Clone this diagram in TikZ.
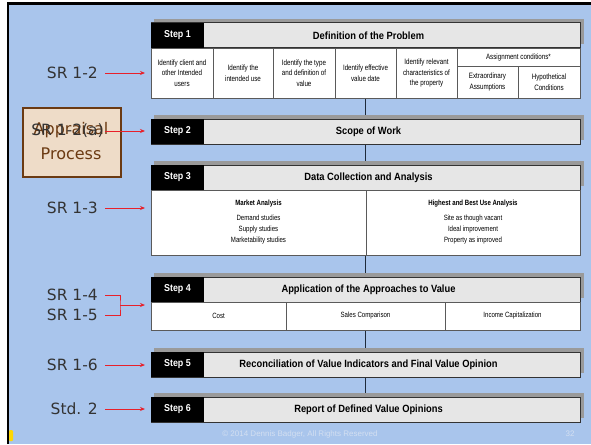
\documentclass[tikz,border=0pt]{standalone}
\usepackage{fontspec}
\setmainfont{Liberation Sans}
\newfontfamily\narrowfont[FakeStretch=0.8]{Liberation Sans}
\newfontfamily\headfont[FakeStretch=0.89]{Liberation Sans}
\newfontfamily\labelfont{DejaVu Sans}
\usetikzlibrary{arrows.meta,calc}

\definecolor{slideblue}{HTML}{A9C5EC}
\definecolor{shadowgray}{HTML}{9A9A9A}
\definecolor{headgray}{HTML}{E6E6E6}
\definecolor{cellline}{HTML}{5A5A5A}
\definecolor{labelgray}{HTML}{333333}
\definecolor{arrowred}{HTML}{E8202A}
\definecolor{boxfill}{HTML}{EEDCC8}
\definecolor{boxbrown}{HTML}{6B3A12}
\definecolor{footerblue}{HTML}{D3DFF1}
\definecolor{linkdark}{HTML}{1E2A3A}

\tikzset{
  x=1pt, y=-1pt,
  headbox/.style={draw=black!80, fill=headgray, line width=1pt, rectangle,
    minimum width=429pt, minimum height=25pt, inner sep=0pt, outer sep=0pt},
  stepcell/.style={fill=black, text=white, rectangle, minimum width=53pt,
    minimum height=25pt, inner sep=0pt, outer sep=0pt,
    font=\headfont\bfseries\fontsize{10}{12}\selectfont},
  headtitle/.style={font=\headfont\bfseries\fontsize{10.5}{12}\selectfont, inner sep=0pt},
  cell/.style={draw=cellline, fill=white, line width=0.8pt, rectangle,
    inner sep=0pt, outer sep=0pt, align=center,
    font=\narrowfont\fontsize{7.8}{10.5}\selectfont},
  bodycell/.style={cell, font=\narrowfont\fontsize{7.6}{11}\selectfont},
  srlabel/.style={font=\labelfont\fontsize{15.5}{18}\selectfont, text=labelgray,
    inner sep=0pt, anchor=east},
  redarrow/.style={draw=arrowred, line width=1pt, -{Stealth[length=5pt,width=4pt]}},
  redline/.style={draw=arrowred, line width=1pt},
  link/.style={draw=linkdark, line width=1.2pt},
}

% header bar of one step: name, top edge, number, title
\newcommand\stephead[4]{%
  \fill[shadowgray] (154,{#2-4}) rectangle (583.5,{#2+21});
  \node[headbox, anchor=north west] (#1) at (151,#2) {};
  \node[stepcell, anchor=north west] (#1s) at (151,#2) {Step #3};
  \node[headtitle] (#1t) at ($(#1.center)+(3,0)$) {#4};
}

\begin{document}
\begin{tikzpicture}
\useasboundingbox (0,0) rectangle (591,444);
\fill[white] (0,0) rectangle (591,444);
\fill[slideblue] (8,3) rectangle (591,444);
\draw[line width=2.4pt] (8,444) -- (8,3.5) -- (591,3.5);

% connectors between the steps (drawn first, boxes sit on top)
\coordinate (l1a) at (365.5,98);
\coordinate (l1b) at (365.5,119);
\coordinate (l2a) at (365.5,144);
\coordinate (l2b) at (365.5,165);
\coordinate (l3a) at (365.5,255);
\coordinate (l3b) at (365.5,277);
\coordinate (l4a) at (365.5,330);
\coordinate (l4b) at (365.5,352);
\coordinate (l5a) at (365.5,377);
\coordinate (l5b) at (365.5,397);
\draw[link] (l1a) -- (l1b);
\draw[link] (l2a) -- (l2b);
\draw[link] (l3a) -- (l3b);
\draw[link] (l4a) -- (l4b);
\draw[link] (l5a) -- (l5b);

% Step 1
\stephead{h1}{23}{1}{Definition of the Problem}
\node[cell, anchor=north west, minimum width=62pt, minimum height=50pt] (c1) at (151,48)
  {Identify client and\\other Intended\\users};
\node[cell, anchor=north west, minimum width=60pt, minimum height=50pt] (c2) at (213,48)
  {Identify the\\intended use};
\node[cell, anchor=north west, minimum width=62pt, minimum height=50pt] (c3) at (273,48)
  {Identify the type\\and definition of\\value};
\node[cell, anchor=north west, minimum width=61pt, minimum height=50pt] (c4) at (335,48)
  {Identify effective\\value date};
\node[cell, anchor=north west, minimum width=61pt, minimum height=50pt] (c5) at (396,48)
  {Identify relevant\\characteristics of\\the property};
\node[cell, anchor=north west, minimum width=123pt, minimum height=18pt] (c6) at (457,48)
  {Assignment conditions*};
\node[cell, anchor=north west, minimum width=61pt, minimum height=32pt] (c6a) at (457,66)
  {Extraordinary\\Assumptions};
\node[cell, anchor=north west, minimum width=62pt, minimum height=32pt] (c6b) at (518,66)
  {Hypothetical\\Conditions};

% Step 2
\stephead{h2}{119}{2}{Scope of Work}

% Step 3
\stephead{h3}{165}{3}{Data Collection and Analysis}
\node[bodycell, anchor=north west, minimum width=215pt, minimum height=65pt] (b3l) at (151,190)
  {{\bfseries Market Analysis}\\[4pt]Demand studies\\Supply studies\\Marketability studies};
\node[bodycell, anchor=north west, minimum width=214pt, minimum height=65pt] (b3r) at (366,190)
  {{\bfseries Highest and Best Use Analysis}\\[4pt]Site as though vacant\\Ideal improvement\\Property as improved};

% Step 4
\stephead{h4}{277}{4}{Application of the Approaches to Value}
\node[bodycell, anchor=north west, minimum width=135pt, minimum height=28pt] (b4a) at (151,302) {Cost};
\node[bodycell, anchor=north west, minimum width=159pt, minimum height=28pt] (b4b) at (286,302) {Sales Comparison};
\node[bodycell, anchor=north west, minimum width=135pt, minimum height=28pt] (b4c) at (445,302) {Income Capitalization};

% Step 5 and Step 6
\stephead{h5}{352}{5}{Reconciliation of Value Indicators and Final Value Opinion}
\stephead{h6}{397}{6}{Report of Defined Value Opinions}

% Appraisal process box
\node[draw=boxbrown, fill=boxfill, line width=1.6pt, rectangle, minimum width=98pt,
  minimum height=69pt, inner sep=0pt, anchor=north west] (ap) at (22,107) {};
\node[font=\labelfont\fontsize{16}{19}\selectfont, text=boxbrown, inner sep=0pt] (apt1) at (71,130) {Appraisal};
\node[font=\labelfont\fontsize{16}{19}\selectfont, text=boxbrown, inner sep=0pt] (apt2) at (71,154) {Process};

% standards references and arrows
\node[srlabel] (sr12) at (98,73) {SR 1-2};
\node[srlabel] (sr12a) at (104,131) {SR 1-2(a)};
\node[srlabel] (sr13) at (98,208) {SR 1-3};
\node[srlabel] (sr14) at (98,295) {SR 1-4};
\node[srlabel] (sr15) at (98,315) {SR 1-5};
\node[srlabel] (sr16) at (98,365) {SR 1-6};
\node[srlabel] (std2) at (98,409) {Std. 2};

\draw[redarrow, shorten <=7pt, shorten >=6pt] (sr12.east) -- (sr12.east -| c1.west);
\draw[redarrow, shorten <=1pt, shorten >=6pt] (sr12a.east) -- (sr12a.east -| h2.west);
\draw[redarrow, shorten <=7pt, shorten >=6pt] (sr13.east) -- (sr13.east -| b3l.west);
\coordinate (brk) at (120,305);
\draw[redline] ([xshift=7pt]sr14.east) -| (brk) |- ([xshift=7pt]sr15.east);
\draw[redarrow, shorten >=6pt] (brk) -- (brk -| b4a.west);
\draw[redarrow, shorten <=7pt, shorten >=6pt] (sr16.east) -- (sr16.east -| h5.west);
\draw[redarrow, shorten <=7pt, shorten >=6pt] (std2.east) -- (std2.east -| h6.west);

% footer
\node[font=\fontsize{8}{10}\selectfont, text=footerblue, inner sep=0pt] (foot) at (300,434)
  {© 2014 Dennis Badger, All Rights Reserved};
\node[font=\fontsize{8}{10}\selectfont, text=footerblue, inner sep=0pt] (pg) at (570,434) {32};
\fill[yellow!75!orange, rounded corners=1pt] (9,430) rectangle (13,441);
\end{tikzpicture}
\end{document}
